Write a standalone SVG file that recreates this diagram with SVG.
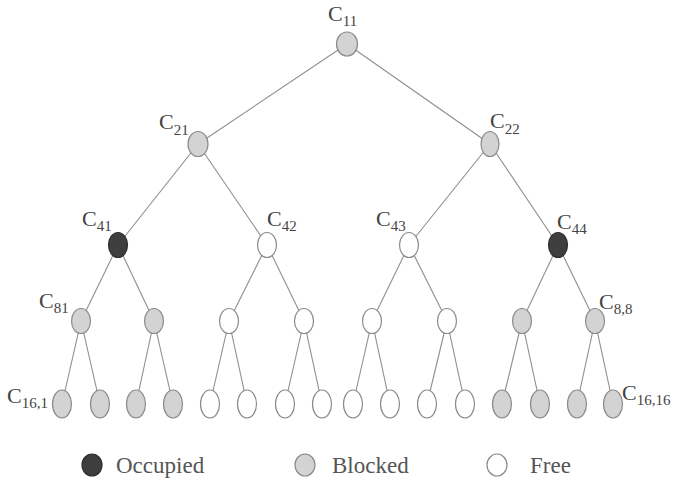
<svg xmlns="http://www.w3.org/2000/svg" width="675" height="484" viewBox="0 0 675 484">
<style>
.bg{fill:#ffffff}
.e{stroke:#8e8e8e;stroke-width:1.1;fill:none}
.occ{fill:#3e3e3e;stroke:#2e2e2e;stroke-width:1.2}
.blk{fill:#d3d3d3;stroke:#8a8a8a;stroke-width:1.2}
.fre{fill:#ffffff;stroke:#8a8a8a;stroke-width:1.2}
.lb{font-family:"Liberation Serif","Times New Roman",serif;font-size:22px;fill:#444}
.sb{font-size:15px}
.lg{font-family:"Liberation Serif","Times New Roman",serif;font-size:23px;fill:#555}
</style>
<rect class="bg" x="0" y="0" width="675" height="484"/>
<g id="connectors" class="e">
<line x1="347" y1="44" x2="198" y2="144"/>
<line x1="347" y1="44" x2="490" y2="144"/>
<line x1="198" y1="144" x2="118" y2="245"/>
<line x1="198" y1="144" x2="267" y2="245"/>
<line x1="490" y1="144" x2="409" y2="245"/>
<line x1="490" y1="144" x2="558" y2="245"/>
<line x1="118" y1="245" x2="81" y2="321"/>
<line x1="118" y1="245" x2="154" y2="321"/>
<line x1="267" y1="245" x2="229" y2="321"/>
<line x1="267" y1="245" x2="304" y2="321"/>
<line x1="409" y1="245" x2="372" y2="321"/>
<line x1="409" y1="245" x2="447" y2="321"/>
<line x1="558" y1="245" x2="522" y2="321"/>
<line x1="558" y1="245" x2="595" y2="321"/>
<line x1="81" y1="321" x2="62" y2="404"/>
<line x1="81" y1="321" x2="100" y2="404"/>
<line x1="154" y1="321" x2="136" y2="404"/>
<line x1="154" y1="321" x2="173" y2="404"/>
<line x1="229" y1="321" x2="210" y2="404"/>
<line x1="229" y1="321" x2="247" y2="404"/>
<line x1="304" y1="321" x2="285" y2="404"/>
<line x1="304" y1="321" x2="322" y2="404"/>
<line x1="372" y1="321" x2="353" y2="404"/>
<line x1="372" y1="321" x2="390" y2="404"/>
<line x1="447" y1="321" x2="427" y2="404"/>
<line x1="447" y1="321" x2="465" y2="404"/>
<line x1="522" y1="321" x2="502" y2="404"/>
<line x1="522" y1="321" x2="540" y2="404"/>
<line x1="595" y1="321" x2="577" y2="404"/>
<line x1="595" y1="321" x2="613" y2="404"/>
</g>
<g id="n-c11"><ellipse class="blk" cx="347" cy="44" rx="10.5" ry="12"/><text class="lb" x="328" y="21">C<tspan class="sb" dy="5">11</tspan></text></g>
<g id="n-c21"><ellipse class="blk" cx="198" cy="144" rx="10" ry="12.5"/><text class="lb" x="159" y="129">C<tspan class="sb" dy="6">21</tspan></text></g>
<g id="n-c22"><ellipse class="blk" cx="490" cy="144" rx="9" ry="12.5"/><text class="lb" x="490" y="128">C<tspan class="sb" dy="6">22</tspan></text></g>
<g id="n-c41"><ellipse class="occ" cx="118" cy="245" rx="9.5" ry="12.5"/><text class="lb" x="82" y="226">C<tspan class="sb" dy="5">41</tspan></text></g>
<g id="n-c42"><ellipse class="fre" cx="267" cy="245" rx="9.5" ry="12.5"/><text class="lb" x="267" y="226">C<tspan class="sb" dy="5">42</tspan></text></g>
<g id="n-c43"><ellipse class="fre" cx="409" cy="245" rx="9.5" ry="12.5"/><text class="lb" x="376" y="226">C<tspan class="sb" dy="5">43</tspan></text></g>
<g id="n-c44"><ellipse class="occ" cx="558" cy="245" rx="9.5" ry="12.5"/><text class="lb" x="557" y="229">C<tspan class="sb" dy="5">44</tspan></text></g>
<g id="n-c81"><ellipse class="blk" cx="81" cy="321" rx="9.5" ry="12.5"/><text class="lb" x="39" y="308">C<tspan class="sb" dy="5">81</tspan></text></g>
<g id="n-c82"><ellipse class="blk" cx="154" cy="321" rx="9.5" ry="12.5"/></g>
<g id="n-c83"><ellipse class="fre" cx="229" cy="321" rx="9.5" ry="12.5"/></g>
<g id="n-c84"><ellipse class="fre" cx="304" cy="321" rx="9.5" ry="12.5"/></g>
<g id="n-c85"><ellipse class="fre" cx="372" cy="321" rx="9.5" ry="12.5"/></g>
<g id="n-c86"><ellipse class="fre" cx="447" cy="321" rx="9.5" ry="12.5"/></g>
<g id="n-c87"><ellipse class="blk" cx="522" cy="321" rx="9.5" ry="12.5"/></g>
<g id="n-c88"><ellipse class="blk" cx="595" cy="321" rx="9.5" ry="12.5"/><text class="lb" x="599" y="309">C<tspan class="sb" dy="5">8,8</tspan></text></g>
<g id="n-c16-1"><ellipse class="blk" cx="62" cy="404" rx="9.5" ry="14"/><text class="lb" x="7" y="403">C<tspan class="sb" dy="5">16,1</tspan></text></g>
<g id="n-c16-2"><ellipse class="blk" cx="100" cy="404" rx="9.5" ry="14"/></g>
<g id="n-c16-3"><ellipse class="blk" cx="136" cy="404" rx="9.5" ry="14"/></g>
<g id="n-c16-4"><ellipse class="blk" cx="173" cy="404" rx="9.5" ry="14"/></g>
<g id="n-c16-5"><ellipse class="fre" cx="210" cy="404" rx="9.5" ry="14"/></g>
<g id="n-c16-6"><ellipse class="fre" cx="247" cy="404" rx="9.5" ry="14"/></g>
<g id="n-c16-7"><ellipse class="fre" cx="285" cy="404" rx="9.5" ry="14"/></g>
<g id="n-c16-8"><ellipse class="fre" cx="322" cy="404" rx="9.5" ry="14"/></g>
<g id="n-c16-9"><ellipse class="fre" cx="353" cy="404" rx="9.5" ry="14"/></g>
<g id="n-c16-10"><ellipse class="fre" cx="390" cy="404" rx="9.5" ry="14"/></g>
<g id="n-c16-11"><ellipse class="fre" cx="427" cy="404" rx="9.5" ry="14"/></g>
<g id="n-c16-12"><ellipse class="fre" cx="465" cy="404" rx="9.5" ry="14"/></g>
<g id="n-c16-13"><ellipse class="blk" cx="502" cy="404" rx="9.5" ry="14"/></g>
<g id="n-c16-14"><ellipse class="blk" cx="540" cy="404" rx="9.5" ry="14"/></g>
<g id="n-c16-15"><ellipse class="blk" cx="577" cy="404" rx="9.5" ry="14"/></g>
<g id="n-c16-16"><ellipse class="blk" cx="613" cy="404" rx="9.5" ry="14"/><text class="lb" x="622" y="400">C<tspan class="sb" dy="5">16,16</tspan></text></g>
<g id="legend">
<ellipse class="occ" cx="92" cy="465" rx="10" ry="11"/><text class="lg" x="116" y="473">Occupied</text>
<ellipse class="blk" cx="305" cy="465" rx="10" ry="11"/><text class="lg" x="332" y="473">Blocked</text>
<ellipse class="fre" cx="497" cy="465" rx="10" ry="11"/><text class="lg" x="530" y="473">Free</text>
</g>
</svg>
